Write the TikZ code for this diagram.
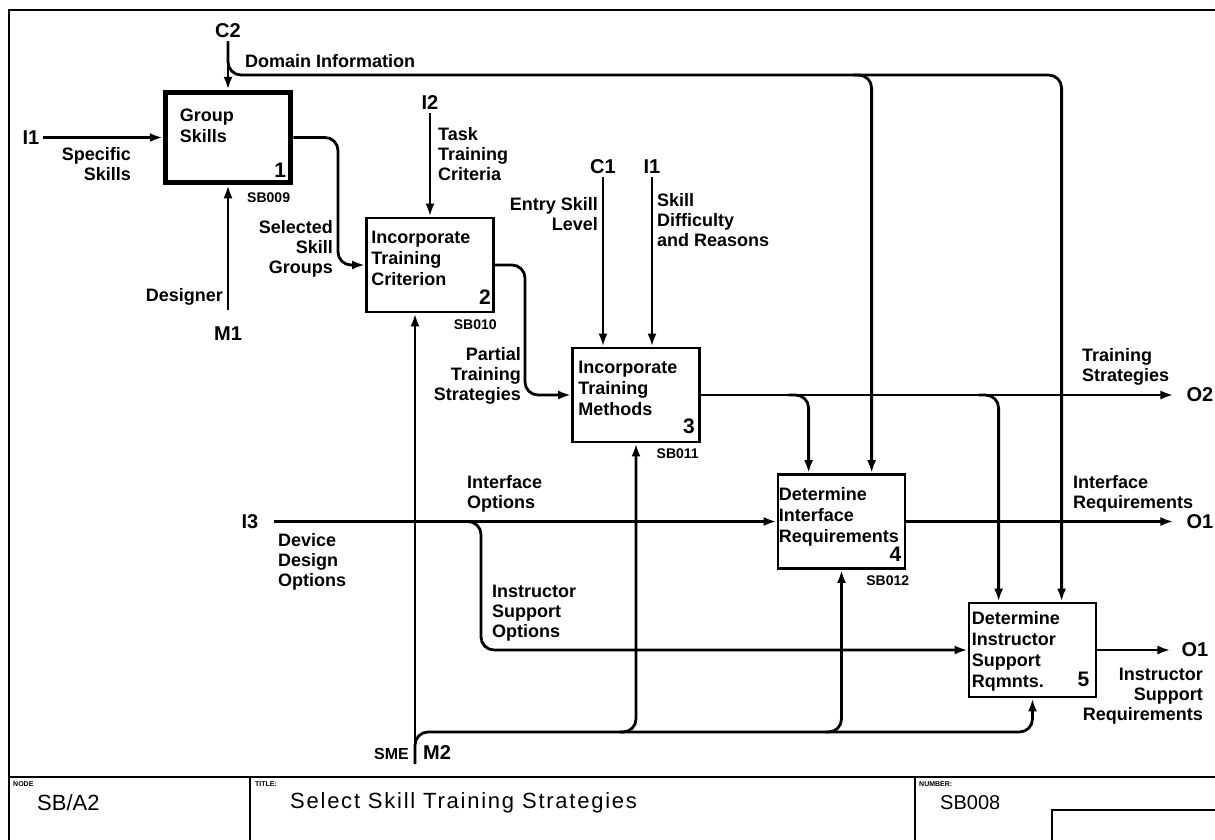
\documentclass[tikz,border=0pt]{standalone}
\usepackage{fontspec}
\setmainfont{Liberation Sans}
\usetikzlibrary{arrows.meta, positioning, calc}

\begin{document}
\begin{tikzpicture}[
    x=1pt, y=-1pt,
    act/.style={rectangle, draw, line width=2.8pt, minimum width=127pt, minimum height=94pt, inner sep=0pt},
    acttext/.style={font=\fontsize{18}{21}\selectfont\bfseries, align=left, anchor=north west, inner sep=0pt},
    actnum/.style={font=\fontsize{21}{21}\selectfont\bfseries, anchor=south east, inner sep=0pt},
    actid/.style={font=\fontsize{14}{14}\selectfont\bfseries, anchor=north east, inner sep=0pt},
    lbl/.style={font=\fontsize{18}{20}\selectfont\bfseries, inner sep=0pt},
    icom/.style={font=\fontsize{20}{20}\selectfont\bfseries, inner sep=3pt},
    flow/.style={-{Latex[length=13pt, width=9pt]}, line width=2.8pt},
    route/.style={flow, rounded corners=13pt},
    frame/.style={line width=2.4pt},
    tag/.style={font=\fontsize{7}{7}\selectfont\bfseries, anchor=north west, inner sep=0pt},
    big/.style={font=\fontsize{22}{22}\selectfont, anchor=west, inner sep=0pt}
]
    \useasboundingbox (0,0) rectangle (1215,839);

    \draw[frame] (1230,10) -- (9,10) -- (9,850);
    \draw[frame] (9,777) -- (1230,777);
    \draw[frame] (250,777) -- (250,850);
    \draw[frame] (915,777) -- (915,850);
    \draw[frame] (1052,850) |- (1230,810);

    \node[tag] (nodetag)  at (13,781)  {NODE};
    \node[tag] (titletag) at (255,781) {TITLE:};
    \node[tag] (numtag)   at (919,781) {NUMBER:};
    \node[big] (nodeno) at (37,803)  {SB/A2};
    \node[big] (title)  at (290,803) {\addfontfeature{LetterSpace=8}Select Skill Training Strategies};
    \node[big, font=\fontsize{20}{20}\selectfont] (number) at (940,803) {SB008};

    \node[act, line width=5.5pt, minimum width=125pt, minimum height=90pt] (b1) at (228,137.5) {};
    \node[act] (b2) at (430,265)     {};
    \node[act] (b3) at (636,395)     {};
    \node[act] (b4) at (841.5,521.5) {};
    \node[act] (b5) at (1032.5,650)  {};

    \node[acttext] (b1t) at ([xshift=17pt, yshift=-19pt]b1.north west) {Group\\Skills};
    \node[acttext] (b2t) at ([xshift=6pt, yshift=-14pt]b2.north west)  {Incorporate\\Training\\Criterion};
    \node[acttext] (b3t) at ([xshift=7pt, yshift=-14pt]b3.north west)  {Incorporate\\Training\\Methods};
    \node[acttext] (b4t) at ([xshift=2pt, yshift=-14pt]b4.north west)  {Determine\\Interface\\Requirements};
    \node[acttext] (b5t) at ([xshift=4pt, yshift=-10pt]b5.north west)  {Determine\\Instructor\\Support\\Rqmnts.};

    \node[actnum] (b1n) at ([xshift=-7pt, yshift=8pt]b1.south east)  {1};
    \node[actnum] (b2n) at ([xshift=-4pt, yshift=9pt]b2.south east)  {2};
    \node[actnum] (b3n) at ([xshift=-6pt, yshift=9pt]b3.south east)  {3};
    \node[actnum] (b4n) at ([xshift=-5pt, yshift=8pt]b4.south east)  {4};
    \node[actnum] (b5n) at ([xshift=-8pt, yshift=12pt]b5.south east) {5};

    \node[actid] (b1id) at ([xshift=-3pt, yshift=-7pt]b1.south east) {SB009};
    \node[actid] (b2id) at ([xshift=2pt, yshift=-6pt]b2.south east)  {SB010};
    \node[actid] (b3id) at ([xshift=-2pt, yshift=-5pt]b3.south east) {SB011};
    \node[actid] (b4id) at ([xshift=3pt, yshift=-6pt]b4.south east)  {SB012};

    \coordinate (b4c1) at ([xshift=32pt]b4.north west);
    \coordinate (b4c2) at ([xshift=95pt]b4.north west);
    \coordinate (b5c1) at ([xshift=31pt]b5.north west);
    \coordinate (b5c2) at ([xshift=94pt]b5.north west);
    \coordinate (dm)   at (300,75);
    \coordinate (j12)  at (338,200);
    \coordinate (j23)  at (525,330);
    \coordinate (jis)  at (481,600);
    \coordinate (mh)   at (700,732);
    \coordinate (m2s)  at (415,764);

    \node[icom] (c2)  at (228,31)     {C2};
    \node[icom] (i1a) at (31,137.5)   {I1};
    \node[icom] (m1)  at (228,334)    {M1};
    \node[icom] (i2)  at (430,103)    {I2};
    \node[icom] (c1)  at (603,167)    {C1};
    \node[icom] (i1b) at (652,167)    {I1};
    \node[icom] (i3)  at (250,521.5)  {I3};
    \node[icom] (o2)  at (1200,395)   {O2};
    \node[icom] (o1a) at (1200,521.5) {O1};
    \node[icom] (o1b) at (1195,650)   {O1};
    \node[icom, anchor=west] (m2) at (420,753) {M2};
    \node[icom, anchor=east, font=\fontsize{16}{16}\selectfont\bfseries] (sme) at (412,754) {SME};

    \node[lbl, anchor=west] (ldom) at (245,61) {Domain Information};
    \node[lbl, anchor=north east, align=right] (lspec)  at (131,147)  {Specific\\Skills};
    \node[lbl, anchor=east] (ldes) at (223,297) {Designer};
    \node[lbl, anchor=north east, align=right] (lsel)   at (333,220)  {Selected\\Skill\\Groups};
    \node[lbl, anchor=north west, align=left]  (ltask)  at (438,127)  {Task\\Training\\Criteria};
    \node[lbl, anchor=north east, align=right] (lentry) at (598,197)  {Entry Skill\\Level};
    \node[lbl, anchor=north west, align=left]  (ldiff)  at (657,193)  {Skill\\Difficulty\\and Reasons};
    \node[lbl, anchor=north east, align=right] (lpart)  at (521,347)  {Partial\\Training\\Strategies};
    \node[lbl, anchor=north west, align=left]  (ltrs)   at (1082,348) {Training\\Strategies};
    \node[lbl, anchor=north west, align=left]  (lifo)   at (467,475)  {Interface\\Options};
    \node[lbl, anchor=north west, align=left]  (lifr)   at (1073,475) {Interface\\Requirements};
    \node[lbl, anchor=north west, align=left]  (ldev)   at (278,533)  {Device\\Design\\Options};
    \node[lbl, anchor=north west, align=left]  (liso)   at (492,585)  {Instructor\\Support\\Options};
    \node[lbl, anchor=north east, align=right] (lisr)   at (1203,668) {Instructor\\Support\\Requirements};

    \draw[flow] (c2) -- (b1);
    \draw[route] (c2) |- (dm -| b5c2) -- (b5c2);
    \draw[route] ($(dm -| b4c2)+(-18,0)$) -| (b4c2);
    \draw[flow] (i1a) -- (b1);
    \draw[flow, shorten <=14pt] (m1) -- (b1);
    \draw[route] (b1) -| (j12) |- (b2);

    \draw[flow] (i2) -- (b2);
    \draw[route] (b2) -| (j23) |- (b3);

    \draw[flow] (c1) -- (c1 |- b3.north);
    \draw[flow] (i1b) -- (i1b |- b3.north);
    \draw[flow, shorten >=10pt] (b3) -- (o2);
    \draw[route] ($(b4c1 |- b3.east)+(-20,0)$) -| (b4c1);
    \draw[route] ($(b5c1 |- b3.east)+(-20,0)$) -| (b5c1);

    \draw[flow, shorten <=12pt] (i3) -- (b4);
    \draw[route] ($(jis |- b4.west)+(-16,0)$) -| (jis) |- (b5);
    \draw[flow, shorten >=10pt] (b4) -- (o1a);
    \draw[flow, shorten >=8pt] (b5) -- (o1b);

    \draw[flow] (m2s) -- (m2s |- b2.south);
    \draw[route] (m2s) |- (mh -| b5) -- (b5);
    \draw[route] ($(mh -| b3)+(-16,0)$) -| (b3);
    \draw[route] ($(mh -| b4)+(-16,0)$) -| (b4);
\end{tikzpicture}
\end{document}
